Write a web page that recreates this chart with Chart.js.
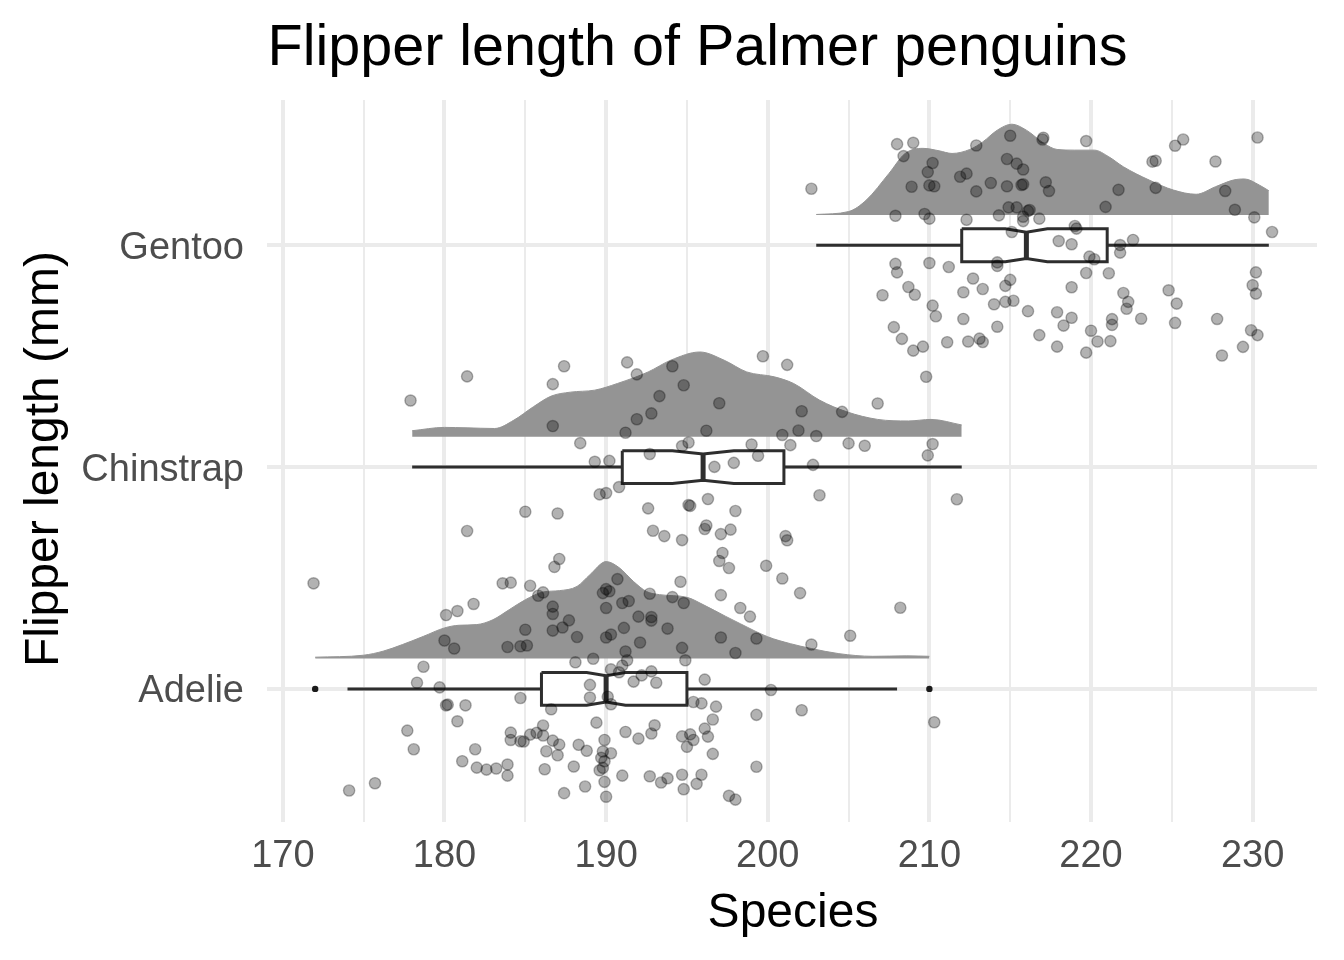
<!DOCTYPE html>
<html>
<head>
<meta charset="utf-8">
<script src="https://cdn.jsdelivr.net/npm/chart.js@4.4.1/dist/chart.umd.min.js"></script>
<style>
  html, body { margin: 0; padding: 0; background: #ffffff; }
  #wrap { width: 1344px; height: 960px; }
</style>
</head>
<body>
<div id="wrap"><canvas id="c" width="1344" height="960"></canvas></div>
<script>
// ---------------- DATA ----------------
const chartTitle = 'Flipper length of Palmer penguins';
const xTitle = 'Species';
const yTitle = 'Flipper length (mm)';
const species = ['Adelie', 'Chinstrap', 'Gentoo'];
const xMajorTicks = [170, 180, 190, 200, 210, 220, 230];
const xMinorTicks = [175, 185, 195, 205, 215, 225];

// box-plot statistics (mm)
const lowerWhisker = [174, 178, 203];
const q1 = [186, 191, 212];
const median = [190, 196, 216];
const q3 = [195, 201, 221];
const upperWhisker = [208, 212, 231];
const notchLow = [188.8, 194.1, 214.7];
const notchHigh = [191.2, 197.9, 217.3];
const adelieOutliers = [172, 210];

// density (half-violin) heights, in category units
const adelieDensityX = [172.0,175,176.2,177.4,178.7,180,180.9,182,183,184,185,186.1,187.1,188.2,189,190,190.8,191.7,192.5,193.3,195,196,197.4,198.3,200,201.4,202.7,204.4,206.5,208.6,210];
const adelieDensityH = [0.006,0.015,0.033,0.063,0.100,0.138,0.150,0.153,0.175,0.220,0.265,0.300,0.306,0.325,0.378,0.437,0.410,0.347,0.302,0.288,0.276,0.243,0.190,0.157,0.098,0.067,0.045,0.022,0.010,0.012,0.010];
const chinstrapDensityX = [178.0,180,181.4,183.1,184.3,185.5,186.6,187.8,189.3,190.7,192.6,194.0,195.8,197.3,198.7,200.4,201.6,203.2,204.9,206.8,208.7,210.1,212.0];
const chinstrapDensityH = [0.027,0.042,0.040,0.037,0.075,0.135,0.183,0.201,0.210,0.240,0.292,0.345,0.382,0.345,0.292,0.270,0.240,0.165,0.112,0.078,0.071,0.078,0.053];
const gentooDensityX = [203,205,206.1,207.5,208.5,209.6,210.6,211.4,212.5,213.3,214.2,215.1,216,217.1,217.9,219,220.2,221.1,222,223.6,225.1,226.5,227.7,228.8,229.5,230.4,231];
const gentooDensityH = [0.002,0.015,0.067,0.187,0.277,0.300,0.289,0.277,0.295,0.329,0.382,0.409,0.382,0.322,0.295,0.292,0.292,0.262,0.217,0.157,0.112,0.093,0.127,0.157,0.162,0.135,0.109];

// individual observations (mm) and their vertical jitter (category units)
const adelieFlipper = [171.9,183.6,184.1,185.3,186.1,185.8,181.8,180.8,180.1,186.7,
186.7,187.7,187.3,185.0,186.7,188.2,180.0,180.6,183.9,184.7,
185.1,190.7,190.0,189.8,190.2,190.0,191.0,191.4,192.7,194.1,
194.8,192.0,192.8,192.8,191.1,193.8,190.0,190.3,192.1,191.2,
194.7,197.1,198.0,194.6,197.1,198.3,198.9,199.3,189.2,188.1,
191.3,191.0,190.8,190.3,194.9,192.8,192.2,191.7,193.1,196.1,
178.7,178.3,179.7,189.0,189.0,184.7,186.6,190.1,190.3,180.1,
180.2,181.3,195.4,195.9,196.8,199.3,180.8,177.7,178.1,186.1,
184.1,184.1,184.7,184.9,185.3,185.7,186.1,186.7,187.1,186.3,
187.0,189.4,191.2,192.0,192.8,193.0,188.3,188.8,189.9,189.8,
190.3,189.7,189.9,189.8,189.6,194.7,195.2,195.4,195.0,196.3,
196.1,196.6,196.6,199.3,181.1,181.9,182.0,182.6,183.2,183.9,
183.9,186.2,188.0,191.0,192.7,193.4,193.8,194.7,194.8,195.6,
195.9,188.7,187.4,189.9,190.0,197.6,198.0,174.1,175.7,200.9,
202.0,208.2,202.7,205.1,200.2,202.1,210.3];
const adelieJitter = [0.476,0.476,0.479,0.465,0.435,0.420,0.383,0.351,0.333,0.371,
0.338,0.309,0.277,0.267,0.263,0.234,0.218,0.182,0.189,0.192,
0.196,0.495,0.450,0.432,0.440,0.365,0.387,0.396,0.429,0.414,
0.387,0.326,0.324,0.308,0.275,0.272,0.232,0.245,0.209,0.169,
0.185,0.232,0.162,0.483,0.423,0.365,0.326,0.227,0.136,0.120,
0.129,0.105,0.075,0.088,0.129,0.079,0.061,0.033,0.028,0.042,
0.100,0.028,0.007,0.018,-0.039,-0.041,-0.092,-0.035,-0.069,-0.074,
-0.071,-0.074,-0.059,-0.065,-0.080,-0.117,-0.146,-0.188,-0.272,-0.165,
-0.197,-0.230,-0.236,-0.237,-0.206,-0.198,-0.210,-0.233,-0.251,-0.281,
-0.299,-0.152,-0.194,-0.224,-0.201,-0.164,-0.252,-0.279,-0.230,-0.282,
-0.290,-0.311,-0.326,-0.356,-0.367,-0.214,-0.205,-0.230,-0.261,-0.215,
-0.179,-0.138,-0.293,-0.351,-0.326,-0.272,-0.355,-0.364,-0.359,-0.341,
-0.391,-0.362,-0.350,-0.391,-0.394,-0.422,-0.403,-0.387,-0.452,-0.428,
-0.387,-0.440,-0.470,-0.419,-0.486,-0.482,-0.499,-0.458,-0.425,0.498,
0.432,0.366,0.200,0.240,-0.005,-0.096,-0.150];

const chinstrapFlipper = [177.9,181.4,187.4,186.7,191.3,191.9,194.1,194.8,193.3,197.0,
192.8,191.9,191.2,186.7,196.2,199.7,201.2,202.1,204.6,206.8,
200.9,201.9,203.0,188.4,195.1,194.7,199.0,201.4,205.0,206.0,
210.2,209.9,209.8,189.3,190.2,192.7,196.7,197.9,199.4,202.8,
189.6,190.0,190.8,203.2,211.7,185.0,187.0,192.6,195.1,195.2,
196.3,198.0,181.4,192.9,193.6,194.7,196.2,196.1,197.1,197.7,
201.1,197.2,197.0,197.6,187.1,186.8,201.2,199.9];
const chinstrapJitter = [0.300,0.409,0.455,0.374,0.472,0.418,0.455,0.369,0.320,0.288,
0.242,0.216,0.155,0.185,0.164,0.500,0.461,0.252,0.249,0.287,
0.145,0.165,0.140,0.108,0.111,0.095,0.102,0.099,0.107,0.096,
0.104,0.053,0.407,0.024,0.028,0.059,0.001,0.019,0.051,0.010,
-0.123,-0.117,-0.090,-0.127,-0.145,-0.201,-0.209,-0.186,-0.171,-0.175,
-0.144,-0.198,-0.288,-0.287,-0.311,-0.329,-0.263,-0.279,-0.302,-0.282,
-0.311,-0.387,-0.423,-0.455,-0.414,-0.450,-0.330,-0.445];

const gentooFlipper = [202.7,208.0,209.0,208.4,212.9,215.0,217.0,217.05,219.7,225.2,
225.7,230.3,223.8,224.0,227.7,210.2,209.9,208.9,210.0,210.3,
211.9,212.3,212.9,213.8,214.8,215.4,215.8,214.8,215.7,215.8,
217.2,217.4,221.7,224.0,228.3,228.9,220.9,214.9,215.4,216.2,
216.1,207.9,209.7,210.0,212.3,214.3,215.8,215.8,216.8,219.0,
219.1,230.1,231.2,215.1,218.0,218.8,221.8,221.8,222.6,219.9,
220.2,214.2,214.2,207.9,208.0,210.0,211.2,221.1,219.7,230.2,
230.0,230.2,212.7,215.0,214.7,212.1,213.3,208.7,209.1,207.1,
218.8,222.0,222.3,222.2,224.8,225.3,210.2,210.4,214.0,214.7,
215.2,216.1,217.9,212.1,214.2,218.8,218.3,221.3,221.3,223.1,
225.2,227.8,207.8,208.3,209.0,209.6,211.1,212.4,213.1,213.3,
216.8,220.0,220.4,221.2,217.9,219.7,229.9,230.3,229.4,228.1];
const gentooJitter = [0.255,0.456,0.462,0.402,0.450,0.494,0.477,0.485,0.470,0.449,
0.477,0.486,0.377,0.381,0.378,0.371,0.330,0.264,0.270,0.266,
0.309,0.323,0.243,0.281,0.389,0.368,0.342,0.266,0.272,0.275,
0.284,0.245,0.250,0.259,0.245,0.160,0.173,0.171,0.171,0.159,
0.155,0.133,0.141,0.120,0.115,0.135,0.129,0.109,0.120,0.087,
0.075,0.126,0.060,0.060,0.019,0.005,0.001,-0.033,0.024,-0.051,
-0.063,-0.077,-0.093,-0.084,-0.122,-0.080,-0.098,-0.126,-0.125,-0.122,
-0.180,-0.218,-0.150,-0.156,-0.183,-0.212,-0.197,-0.188,-0.223,-0.225,
-0.189,-0.215,-0.255,-0.286,-0.203,-0.263,-0.272,-0.320,-0.266,-0.255,
-0.250,-0.297,-0.302,-0.332,-0.367,-0.327,-0.362,-0.333,-0.359,-0.331,
-0.350,-0.332,-0.369,-0.422,-0.475,-0.457,-0.437,-0.434,-0.421,-0.436,
-0.405,-0.385,-0.434,-0.432,-0.457,-0.484,-0.383,-0.405,-0.458,-0.497];

// ---------------- LAYOUT / STYLE ----------------
const FONT = '"Liberation Sans", Arial, Helvetica, sans-serif';
const SLAB_OFFSET = 0.137;   // gap between category centre and density baseline
const BOX_HALF = 0.074;      // half height of the box
const NOTCH_RATIO = 0.8;
const INK = '#2e2e2e';
const GRID = '#ebebeb';

const densX = [adelieDensityX, chinstrapDensityX, gentooDensityX];
const densH = [adelieDensityH, chinstrapDensityH, gentooDensityH];
const obsX = [adelieFlipper, chinstrapFlipper, gentooFlipper];
const obsJ = [adelieJitter, chinstrapJitter, gentooJitter];

const datasets = [];
species.forEach((name, i) => {
  const c = i + 1;
  const base = c + SLAB_OFFSET;
  // density slab
  datasets.push({
    label: name + ' density',
    data: densX[i].map((x, k) => ({ x: x, y: base + densH[i][k] })),
    showLine: true,
    fill: { value: base },
    backgroundColor: '#949494',
    borderColor: '#949494',
    borderWidth: 1,
    pointRadius: 0,
    cubicInterpolationMode: 'monotone',
    order: 10
  });
  // whisker line
  datasets.push({
    label: name + ' whisker',
    data: [{ x: lowerWhisker[i], y: c }, { x: upperWhisker[i], y: c }],
    showLine: true, fill: false,
    borderColor: INK, borderWidth: 3, pointRadius: 0,
    order: 8
  });
  // notched box
  const h = BOX_HALF, hn = BOX_HALF * NOTCH_RATIO;
  datasets.push({
    label: name + ' box',
    data: [
      { x: q1[i], y: c + h }, { x: notchLow[i], y: c + h }, { x: median[i], y: c + hn },
      { x: notchHigh[i], y: c + h }, { x: q3[i], y: c + h }, { x: q3[i], y: c - h },
      { x: notchHigh[i], y: c - h }, { x: median[i], y: c - hn }, { x: notchLow[i], y: c - h },
      { x: q1[i], y: c - h }, { x: q1[i], y: c + h }
    ],
    showLine: true, fill: 'shape',
    backgroundColor: '#ffffff', borderColor: INK, borderWidth: 3,
    borderJoinStyle: 'miter', pointRadius: 0, tension: 0,
    order: 7
  });
  // median
  datasets.push({
    label: name + ' median',
    data: [{ x: median[i], y: c - hn }, { x: median[i], y: c + hn }],
    showLine: true, fill: false,
    borderColor: INK, borderWidth: 5, pointRadius: 0,
    order: 6
  });
  // jittered observations
  datasets.push({
    label: name + ' points',
    data: obsX[i].map((x, k) => ({ x: x, y: c + obsJ[i][k] })),
    showLine: false,
    pointRadius: 5.6,
    pointBackgroundColor: 'rgba(0,0,0,0.3)',
    pointBorderColor: 'rgba(0,0,0,0.3)',
    pointBorderWidth: 1.4,
    order: 2
  });
});
datasets.push({
  label: 'Adelie outliers',
  data: adelieOutliers.map(x => ({ x: x, y: 1 })),
  showLine: false,
  pointRadius: 3.2,
  pointBackgroundColor: '#1a1a1a',
  pointBorderColor: '#1a1a1a',
  pointBorderWidth: 0,
  order: 1
});

const titlesPlugin = {
  id: 'titles',
  afterDraw(chart) {
    const ctx = chart.ctx;
    ctx.save();
    ctx.fillStyle = '#000000';
    ctx.textBaseline = 'alphabetic';
    ctx.textAlign = 'center';
    ctx.font = '57.5px ' + FONT;
    ctx.fillText(chartTitle, 697.5, 65);
    ctx.font = '48px ' + FONT;
    ctx.fillText(xTitle, 793, 927);
    ctx.translate(58, 459);
    ctx.rotate(-Math.PI / 2);
    ctx.fillText(yTitle, 0, 0);
    ctx.restore();
  }
};

new Chart(document.getElementById('c'), {
  type: 'scatter',
  data: { datasets: datasets },
  plugins: [titlesPlugin],
  options: {
    responsive: false,
    animation: false,
    devicePixelRatio: 1,
    layout: { padding: { top: 100, right: 27, left: 0, bottom: 0 } },
    plugins: { legend: { display: false }, tooltip: { enabled: false }, title: { display: false } },
    scales: {
      x: {
        type: 'linear',
        min: 169.02,
        max: 233.98,
        afterBuildTicks(scale) {
          scale.ticks = xMajorTicks.concat(xMinorTicks).sort((a, b) => a - b).map(v => ({ value: v }));
        },
        afterFit(scale) { scale.height = 138; },
        border: { display: false },
        grid: {
          color: GRID,
          lineWidth: (ctx) => (ctx.tick && xMajorTicks.includes(ctx.tick.value)) ? 4 : 2,
          drawTicks: false
        },
        ticks: {
          autoSkip: false,
          maxRotation: 0,
          padding: 12,
          color: '#4d4d4d',
          font: { family: FONT, size: 38 },
          callback: (v) => xMajorTicks.includes(v) ? String(v) : ''
        }
      },
      y: {
        type: 'linear',
        min: 0.4,
        max: 3.655,
        afterBuildTicks(scale) {
          scale.ticks = species.map((s, i) => ({ value: i + 1 }));
        },
        afterFit(scale) { scale.width = 267; },
        border: { display: false },
        grid: { color: GRID, lineWidth: 4, drawTicks: false },
        ticks: {
          autoSkip: false,
          padding: 23,
          labelOffset: 3,
          color: '#4d4d4d',
          font: { family: FONT, size: 38 },
          callback: (v) => species[v - 1] || ''
        }
      }
    }
  }
});
</script>
</body>
</html>
